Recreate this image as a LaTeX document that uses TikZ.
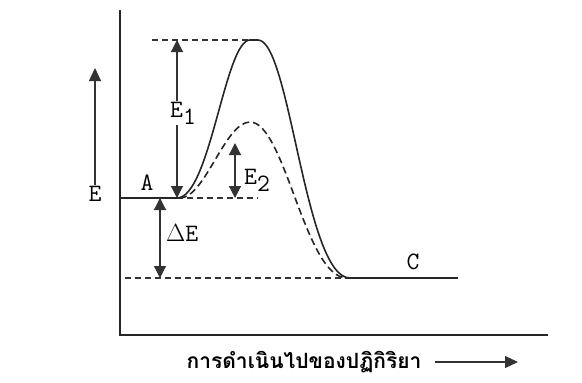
\documentclass[tikz,border=0pt]{standalone}
\usepackage{fontspec}
\newfontfamily\thaifont[Script=Thai]{Loma}
\usetikzlibrary{arrows.meta, positioning}
\tikzset{
  axis/.style={draw=black!85, line width=2.6pt},
  level/.style={draw=black!85, line width=1.6pt},
  guide/.style={draw=black!80, line width=1.2pt, dash pattern=on 6pt off 4pt},
  path1/.style={draw=black!85, line width=1.6pt},
  path2/.style={draw=black!85, line width=1.6pt, dash pattern=on 7pt off 4pt},
  gap/.style={draw=black!80, line width=1.2pt,
              {Triangle[length=12pt,width=12pt]}-{Triangle[length=12pt,width=12pt]}},
  up/.style={draw=black!80, line width=1.2pt, -{Triangle[length=13pt,width=12pt]}},
  tag/.style={font=\ttfamily\fontsize{25}{25}\selectfont, inner sep=1pt},
  caption/.style={font=\thaifont\bfseries\fontsize{21}{21}\selectfont, inner sep=1pt},
}

\begin{document}
\begin{tikzpicture}[x=1pt,y=-1pt]
  \useasboundingbox (0,0) rectangle (582,383);
  % axes
  \coordinate (ytop) at (120,10);
  \coordinate (orig) at (120,335);
  \coordinate (xend) at (548,335);
  \draw[axis] (ytop) -- (orig) -- (xend);

  % levels and guides
  \coordinate (aleft) at (120,198);
  \coordinate (astart) at (177,198);
  \coordinate (aend) at (258,198);
  \coordinate (cstart) at (350,278);
  \coordinate (cend) at (458,278);
  \coordinate (peakl) at (250,40);
  \coordinate (peakr) at (258,40);
  \coordinate (peaklow) at (250,122);
  \coordinate (topl) at (152,40);
  \coordinate (lowl) at (125,278);
  \draw[level] (aleft) -- (astart);
  \draw[level] (cstart) -- (cend);
  \draw[guide] (topl) -- (peakl);
  \draw[guide] (astart) -- (aend);
  \draw[guide] (lowl) -- (cstart);

  % reaction paths
  \draw[path1] (astart) .. controls (210,198) and (225,40) .. (peakl) -- (peakr)
    .. controls (290,40) and (305,278) .. (cstart);
  \draw[path2] (180,198) .. controls (205,198) and (225,122) .. (peaklow)
    .. controls (285,122) and (305,278) .. (347,278);

  % energy gaps
  \coordinate (e1top) at (177,40);
  \coordinate (e2top) at (235,143);
  \coordinate (e2bot) at (235,198);
  \coordinate (dtop) at (160,198);
  \coordinate (dbot) at (160,278);
  \draw[gap] (e1top) -- (astart);
  \draw[gap] (e2top) -- (e2bot);
  \draw[gap] (dtop) -- (dbot);

  % labels
  \node[tag, fill=white, anchor=west] (e1) at (169,113) {E\raisebox{-7pt}{1}};
  \node[tag, anchor=west] (e2) at (243,180) {E\raisebox{-7pt}{2}};
  \node[tag, anchor=west] (de) at (165,233) {$\Delta$E};
  \node[tag] (la) at (147,183) {A};
  \node[tag] (lc) at (413,262) {C};
  \node[tag] (le) at (95,194) {E};
  \coordinate (etop) at (95,68);
  \draw[up] (le.north) -- (etop);

  % reaction coordinate
  \node[caption] (prog) at (304,362) {การดำเนินไปของปฏิกิริยา};
  \coordinate (arrend) at (518,362);
  \draw[up] (prog.east) ++(12,0) coordinate (arrbeg) -- (arrend);
\end{tikzpicture}
\end{document}
